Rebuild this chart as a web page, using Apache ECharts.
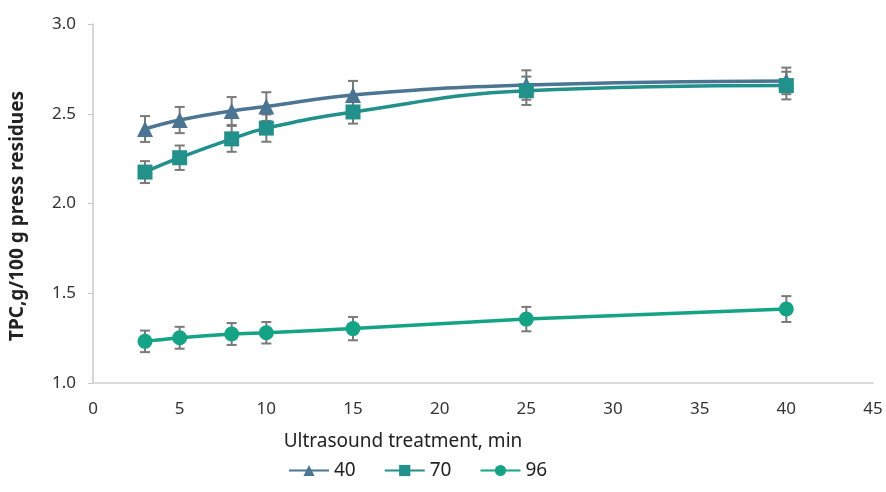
<!DOCTYPE html>
<html>
<head>
<meta charset="utf-8">
<script src="https://cdn.jsdelivr.net/npm/echarts@6/dist/echarts.min.js"></script>
<style>
  html, body { margin: 0; padding: 0; background: #fff; }
  #chart { width: 886px; height: 492px; }
</style>
</head>
<body>
<div id="chart"></div>
<script>
// Treatment times (min)
const times = [3, 5, 8, 10, 15, 25, 40];

// TPC means (g/100 g press residues) for each temperature
const tpc40 = [2.415, 2.465, 2.515, 2.54, 2.605, 2.66, 2.683];
const tpc70 = [2.175, 2.255, 2.36, 2.42, 2.51, 2.628, 2.657];
const tpc96 = [1.232, 1.252, 1.273, 1.28, 1.303, 1.356, 1.412];

// Standard deviations
const sd40 = [0.072, 0.073, 0.078, 0.08, 0.078, 0.082, 0.074];
const sd70 = [0.061, 0.068, 0.072, 0.076, 0.065, 0.079, 0.077];
const sd96 = [0.06, 0.061, 0.061, 0.06, 0.065, 0.068, 0.072];

const seriesNames = ['40', '70', '96'];
const seriesColors = ['#4b7592', '#22908b', '#14a385'];
const yTicks = [1.0, 1.5, 2.0, 2.5, 3.0];
const xTitle = 'Ultrasound treatment, min';
const yTitle = 'TPC,g/100 g press residues';

const lineData = (vals) => times.map((t, i) => [t, vals[i]]);
const errData = (vals, sd) => times.map((t, i) => [t, vals[i] - sd[i], vals[i] + sd[i]]);

function renderErrorBar(params, api) {
  const x = api.value(0);
  const lo = api.coord([x, api.value(1)]);
  const hi = api.coord([x, api.value(2)]);
  const half = 5;
  const style = { stroke: '#7a7a7a', lineWidth: 2 };
  return {
    type: 'group',
    children: [
      { type: 'line', shape: { x1: lo[0], y1: lo[1], x2: hi[0], y2: hi[1] }, style },
      { type: 'line', shape: { x1: lo[0] - half, y1: lo[1], x2: lo[0] + half, y2: lo[1] }, style },
      { type: 'line', shape: { x1: hi[0] - half, y1: hi[1], x2: hi[0] + half, y2: hi[1] }, style }
    ]
  };
}

const chart = echarts.init(document.getElementById('chart'), null, { renderer: 'canvas' });

const fontFamily = '"Noto Sans", "Open Sans", sans-serif';
const means = [tpc40, tpc70, tpc96];
const sds = [sd40, sd70, sd96];
const symbols = ['triangle', 'rect', 'circle'];
const symbolSizes = [16, 15, 15];

const series = [];
means.forEach((vals, k) => {
  series.push({
    name: seriesNames[k] + '_err',
    type: 'custom',
    renderItem: renderErrorBar,
    data: errData(vals, sds[k]),
    encode: { x: 0, y: [1, 2] },
    z: 1,
    silent: true
  });
});
means.forEach((vals, k) => {
  series.push({
    name: seriesNames[k],
    type: 'line',
    data: lineData(vals),
    smooth: k < 2 ? 0.45 : 0.2,
    symbol: symbols[k],
    symbolSize: symbolSizes[k],
    showAllSymbol: true,
    lineStyle: { color: seriesColors[k], width: 3.5 },
    itemStyle: { color: seriesColors[k], borderWidth: 0 },
    z: 3 + k
  });
});

chart.setOption({
  animation: false,
  backgroundColor: '#ffffff',
  grid: { left: 93, right: 13, top: 24, bottom: 109, containLabel: false },
  legend: {
    data: seriesNames,
    top: 456,
    left: 283,
    itemWidth: 40,
    itemHeight: 14,
    itemGap: 28,
    textStyle: { fontFamily, fontSize: 19, color: '#222' }
  },
  graphic: [
    {
      type: 'text',
      x: 403,
      y: 442,
      style: {
        text: xTitle,
        font: '19px ' + fontFamily,
        fill: '#222',
        align: 'center',
        verticalAlign: 'middle'
      }
    },
    {
      type: 'text',
      x: 18,
      y: 216,
      rotation: Math.PI / 2,
      style: {
        text: yTitle,
        font: 'bold 19px ' + fontFamily,
        fill: '#222',
        align: 'center',
        verticalAlign: 'middle'
      }
    }
  ],
  xAxis: {
    type: 'value',
    min: 0,
    max: 45,
    interval: 5,
    axisLine: { show: true, lineStyle: { color: '#d0d0d0', width: 1.5 } },
    axisTick: { show: false },
    axisLabel: { fontFamily, fontSize: 17, color: '#333', margin: 18 },
    splitLine: { show: false }
  },
  yAxis: {
    type: 'value',
    min: 1.0,
    max: 3.0,
    interval: 0.5,
    axisLine: { show: true, lineStyle: { color: '#c8c8c8', width: 1.5 } },
    axisTick: { show: true, inside: false, length: 5, lineStyle: { color: '#c8c8c8' } },
    axisLabel: {
      fontFamily, fontSize: 17, color: '#333', margin: 17,
      formatter: (v) => {
        const t = yTicks.find((y) => Math.abs(y - v) < 1e-9);
        return (t !== undefined ? t : v).toFixed(1);
      }
    },
    splitLine: { show: false }
  },
  series
});
</script>
</body>
</html>
